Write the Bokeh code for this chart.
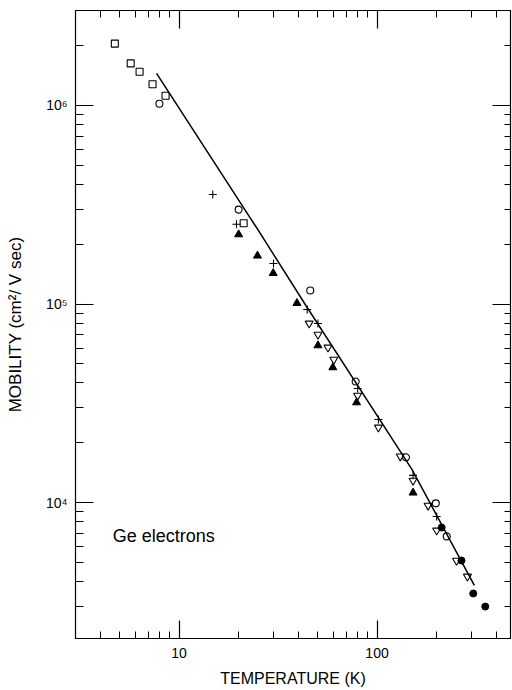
from bokeh.plotting import figure
from bokeh.models import FixedTicker, LogAxis, Label
from bokeh.embed import file_html
from bokeh.resources import INLINE

# ---- data (temperature K, mobility cm^2/Vs) ----
square_T = [4.74, 5.70, 6.32, 7.35, 8.55, 21.2]
square_mu = [2.05e6, 1.63e6, 1.48e6, 1.28e6, 1.12e6, 2.55e5]

circle_T = [7.96, 20.0, 46.0, 78.0, 140, 198, 225]
circle_mu = [1.02e6, 2.99e5, 1.17e5, 4.07e4, 1.69e4, 9.9e3, 6.75e3]

plus_T = [14.8, 19.5, 30.0, 44.4, 50.3, 79.8, 101.6, 152, 200]
plus_mu = [3.56e5, 2.52e5, 1.60e5, 9.38e4, 7.98e4, 3.75e4, 2.62e4, 1.37e4, 8.5e3]

tri_T = [20.0, 24.9, 29.9, 39.4, 50.3, 59.8, 78.8, 152]
tri_mu = [2.24e5, 1.75e5, 1.43e5, 1.01e5, 6.18e4, 4.79e4, 3.19e4, 1.12e4]

dtri_T = [45.4, 50.3, 56.5, 60.5, 79.8, 101.6, 131, 152, 181, 200, 252, 286]
dtri_mu = [7.98e4, 7.01e4, 6.04e4, 5.25e4, 3.46e4, 2.39e4, 1.71e4, 1.29e4,
           9.66e3, 7.23e3, 5.1e3, 4.24e3]

dot_T = [212, 267, 306, 352]
dot_mu = [7.48e3, 5.1e3, 3.48e3, 2.99e3]

theory_T = [7.7, 25.2, 43.8, 150, 310]
theory_mu = [1.45e6, 2.34e5, 9.8e4, 1.47e4, 3.82e3]

x_major = [10, 100]
x_minor = [3, 4, 5, 6, 7, 8, 9, 20, 30, 40, 50, 60, 70, 80, 90, 200, 300, 400]
y_major = [1e4, 1e5, 1e6]
y_minor = [3e3, 4e3, 5e3, 6e3, 7e3, 8e3, 9e3,
           2e4, 3e4, 4e4, 5e4, 6e4, 7e4, 8e4, 9e4,
           2e5, 3e5, 4e5, 5e5, 6e5, 7e5, 8e5, 9e5,
           2e6, 3e6]
y_labels = {10000: "10\u2074", 100000: "10\u2075", 1000000: "10\u2076"}
x_labels = {10: "10", 100: "100"}

FONT = "Liberation Sans"

p = figure(width=512, height=690, x_axis_type="log", y_axis_type="log",
           x_range=(3.0, 472), y_range=(2.065e3, 3.01e6),
           output_backend="svg", toolbar_location=None,
           min_border_left=75, min_border_right=2, min_border_top=10,
           min_border_bottom=52)
p.background_fill_color = "white"
p.border_fill_color = "white"
p.grid.visible = False
p.outline_line_color = "black"
p.outline_line_width = 1.2


def style_axis(ax, major, minor, maj_len, min_len):
    ax.ticker = FixedTicker(ticks=major, minor_ticks=minor)
    ax.major_tick_in = maj_len
    ax.major_tick_out = 0
    ax.minor_tick_in = min_len
    ax.minor_tick_out = 0
    ax.axis_line_color = "black"
    ax.major_tick_line_color = "black"
    ax.minor_tick_line_color = "black"
    ax.major_tick_line_width = 1.2
    ax.minor_tick_line_width = 1.0


xb = p.xaxis[0]
yl = p.yaxis[0]
style_axis(xb, x_major, x_minor, 18, 7)
style_axis(yl, y_major, y_minor, 18, 8)
for ax, ov in ((xb, x_labels), (yl, y_labels)):
    ax.major_label_overrides = ov
    ax.major_label_text_font = FONT
    ax.major_label_text_font_size = "14px"
    ax.major_label_text_color = "black"
xb.major_label_standoff = 9
yl.major_label_standoff = 8

xb.axis_label = "TEMPERATURE (K)"
xb.axis_label_text_font = FONT
xb.axis_label_text_font_size = "16px"
xb.axis_label_text_font_style = "normal"
xb.axis_label_text_color = "black"
xb.axis_label_standoff = 9

yl.axis_label = "MOBILITY (cm\u00b2/ V sec)"
yl.axis_label_text_font = FONT
yl.axis_label_text_font_size = "17px"
yl.axis_label_text_font_style = "normal"
yl.axis_label_text_color = "black"
yl.axis_label_standoff = 18

top = LogAxis()
style_axis(top, x_major, x_minor, 18, 7)
top.major_label_text_color = None
top.major_label_text_font_size = "2px"
top.major_label_standoff = 0
p.add_layout(top, "above")

right = LogAxis()
style_axis(right, y_major, y_minor, 18, 6)
right.major_label_text_color = None
right.major_label_text_font_size = "2px"
right.major_label_standoff = 0
p.add_layout(right, "right")

# theory curve
p.line(theory_T, theory_mu, line_color="black", line_width=1.5)

# data points
p.scatter(square_T, square_mu, marker="square", size=7, fill_color=None,
          line_color="black", line_width=1.1)
p.scatter(circle_T, circle_mu, marker="circle", size=7, fill_color=None,
          line_color="black", line_width=1.1)
p.scatter(plus_T, plus_mu, marker="cross", size=8, line_color="black",
          line_width=1.1)
p.scatter(tri_T, tri_mu, marker="triangle", size=8, fill_color="black",
          line_color="black", line_width=1)
p.scatter(dtri_T, dtri_mu, marker="inverted_triangle", size=8, fill_color=None,
          line_color="black", line_width=1.1)
p.scatter(dot_T, dot_mu, marker="circle", size=7, fill_color="black",
          line_color="black", line_width=1)

p.add_layout(Label(x=4.62, y=6.75e3, text="Ge electrons", text_font=FONT,
                   text_font_size="18px", text_color="black",
                   text_baseline="middle", text_align="left"))

open("out.html", "w").write(file_html(p, INLINE))
